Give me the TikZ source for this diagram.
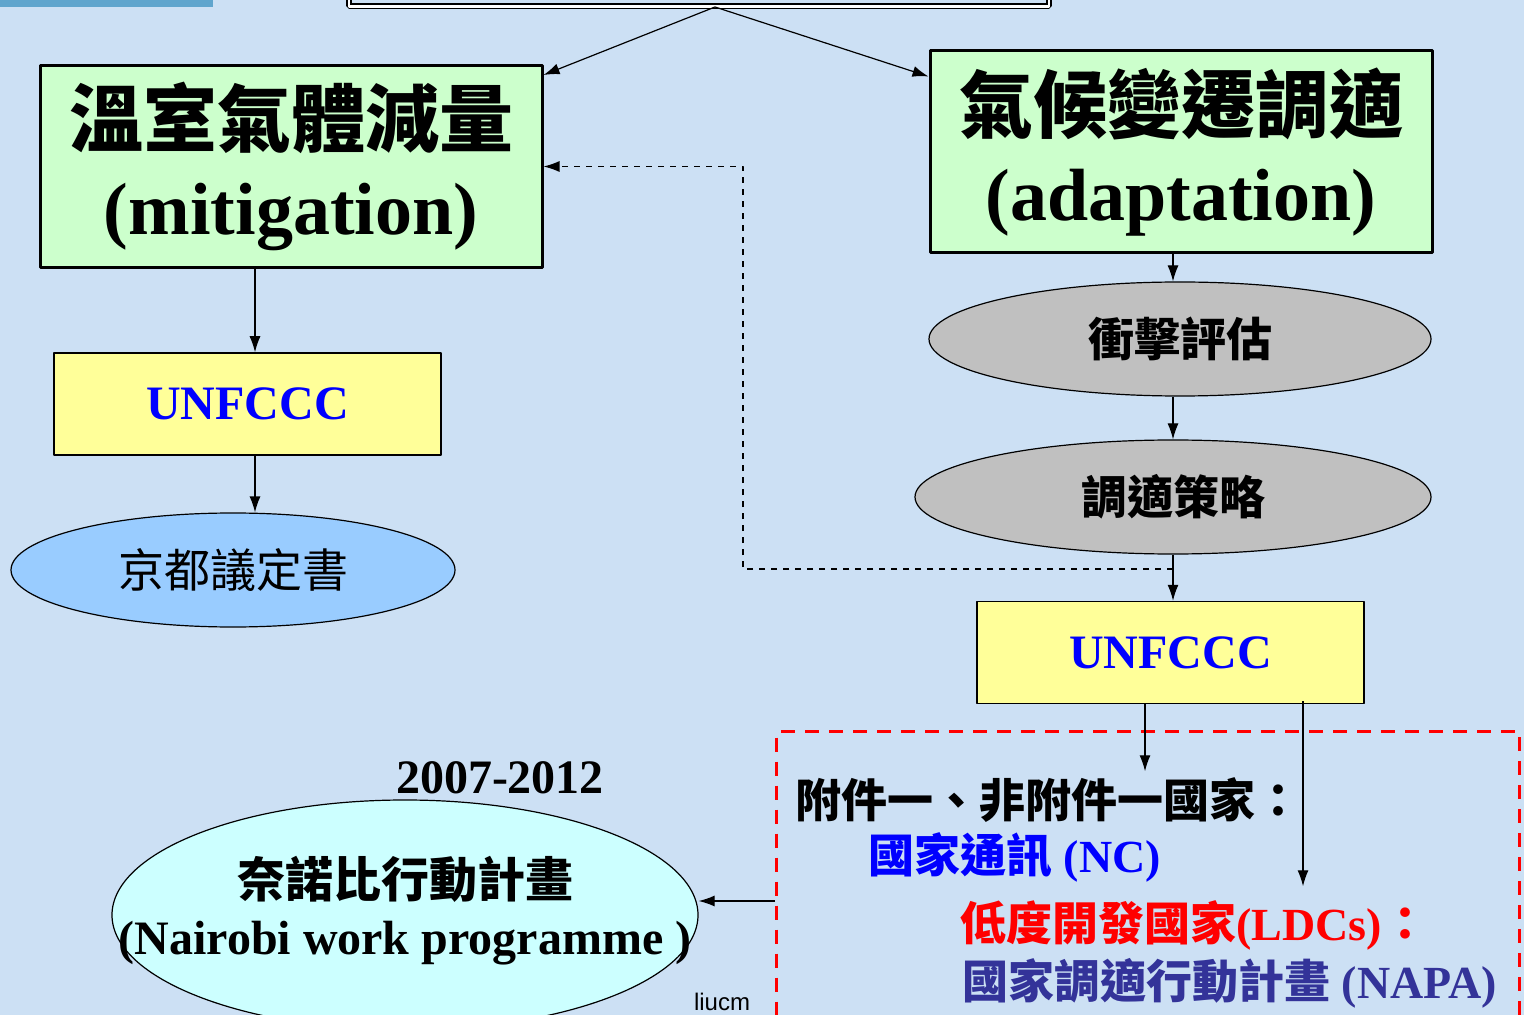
\documentclass[tikz,border=0pt]{standalone}
\usepackage{fontspec}
\setmainfont{Liberation Serif}
\setsansfont{Liberation Sans}
\newfontfamily\cjk{Noto Sans CJK TC}
\newcommand{\zh}[1]{{\cjk #1}}
\usetikzlibrary{shapes.geometric,arrows.meta}

\definecolor{bgcol}{RGB}{204,224,244}
\definecolor{barcol}{RGB}{95,165,205}
\definecolor{mitcol}{RGB}{204,255,204}
\definecolor{unfcol}{RGB}{255,255,153}
\definecolor{kyotocol}{RGB}{153,204,255}
\definecolor{stepcol}{RGB}{192,192,192}
\definecolor{nairobicol}{RGB}{204,255,255}
\definecolor{napacol}{RGB}{51,51,153}

\tikzset{
  flow/.style={->,line width=0.6pt},
  bigbox/.style={draw,line width=1.5pt,fill=mitcol,minimum width=251pt,minimum height=101pt,
    inner sep=0pt,align=center,font=\fontsize{37}{44}\selectfont\bfseries},
  unfbox/.style={draw,line width=0.75pt,fill=unfcol,minimum width=193.5pt,minimum height=51pt,
    inner sep=0pt,text=blue,font=\fontsize{24}{28}\selectfont\bfseries},
  oval/.style={ellipse,draw,line width=0.6pt,inner sep=0pt},
  ovaltext/.style={font=\fontsize{23}{28}\selectfont\bfseries\cjk}
}

\begin{document}
\begin{tikzpicture}[>={Latex[length=8pt,width=5.5pt]},line join=bevel,x=0.5pt,y=-0.5pt]
  \useasboundingbox (0,0) rectangle (1524,1015);
  \fill[bgcol] (0,0) rectangle (1524,1015);
  \fill[barcol] (0,0) rectangle (213,7);
%%
  % Node: root (title box, cut off)
  \node[draw,double,line width=0.7pt,double distance=1.4pt,minimum width=350pt,minimum height=30pt,
    anchor=south] (root) at (699,7) {};
  % Node: mitigation
  \node[bigbox] (mit) at (291,166.5) {\zh{溫室氣體減量}\\(mitigation)};
  % Node: adaptation
  \node[bigbox] (ada) at (1181,152) {\zh{氣候變遷調適}\\(adaptation)};
  % Node: UNFCCC (left)
  \node[unfbox] (unleft) at (247.5,404) {UNFCCC};
  % Node: Kyoto
  \node[oval,fill=kyotocol,minimum width=222pt,minimum height=57pt,
    font=\fontsize{23}{28}\selectfont\cjk] (kyoto) at (233,570) {京都議定書};
  % Node: impact
  \node[oval,fill=stepcol,minimum width=251pt,minimum height=57pt,ovaltext] (impact) at (1180,339) {衝擊評估};
  % Node: strategy
  \node[oval,fill=stepcol,minimum width=258pt,minimum height=57pt,ovaltext] (strategy) at (1173,497) {調適策略};
  % Node: UNFCCC (right)
  \node[unfbox] (unright) at (1170.5,652.5) {UNFCCC};
  % Node: LDC frame
  \node[draw=red,line width=1.5pt,dash pattern=on 7pt off 5pt,minimum width=371.5pt,minimum height=310pt,
    anchor=north west] (frame) at (775,730) {};
  % Node: Nairobi
  \node[oval,fill=nairobicol,minimum width=293pt,minimum height=115pt] (nairobi) at (405,915) {};
  \node[align=center,font=\fontsize{24}{28.5}\selectfont\bfseries] (nwp) at (405,911)
    {\zh{奈諾比行動計畫}\\(Nairobi work programme )};
  \node[font=\fontsize{24}{28}\selectfont\bfseries] (years) at (500,778) {2007-2012};
  % Node: texts in frame
  \node[anchor=west,inner sep=0pt,font=\fontsize{23}{28}\selectfont\bfseries] (annex) at (795,800)
    {\zh{附件一、非附件一國家：}};
  \node[anchor=west,inner sep=0pt,text=blue,font=\fontsize{23}{28}\selectfont\bfseries] (nc) at (868,857)
    {\zh{國家通訊} (NC)};
  \node[anchor=west,inner sep=0pt,text=red,font=\fontsize{23}{28}\selectfont\bfseries] (ldc) at (960,925)
    {\zh{低度開發國家}(LDCs)\zh{：}};
  \node[anchor=west,inner sep=0pt,text=napacol,font=\fontsize{23}{28}\selectfont\bfseries] (napa) at (962,983)
    {\zh{國家調適行動計畫} (NAPA)};
  \node[anchor=south,inner sep=1pt,font=\sffamily\fontsize{12}{14}\selectfont] (sign) at (722,1013) {liucm};
%%
  % Edge: root -> mitigation
  \draw[flow] ([xshift=8pt]root.south) -- ([yshift=-5.5pt]mit.north east);
  % Edge: root -> adaptation
  \draw[flow] ([xshift=8pt]root.south) -- ([yshift=-13.5pt]ada.north west);
  % Edge: mitigation -> UNFCCC
  \draw[flow] ([xshift=3.75pt]unleft.north |- mit.south) -- ([xshift=3.75pt]unleft.north);
  % Edge: UNFCCC -> Kyoto
  \draw[flow] ([xshift=3.75pt]unleft.south) -- ([xshift=3.75pt]unleft.south |- kyoto.north);
  % Edge: adaptation -> impact
  \draw[flow] (strategy.north |- ada.south) -- (strategy.north |- impact.north);
  % Edge: impact -> strategy
  \draw[flow] (strategy.north |- impact.south) -- (strategy.north);
  % Edge: strategy -> UNFCCC
  \draw[flow] (strategy.south) -- (strategy.south |- unright.north);
  % Edge: strategy -> mitigation (dashed)
  \coordinate (split) at (1173,569);
  \coordinate (turn) at (743,569);
  \draw[flow,dashed] (split) -- (turn) |- (mit.east);
  % Edge: UNFCCC -> annex text
  \draw[flow] ([xshift=-12.75pt]unright.south) -- ++(0,67);
  % Edge: UNFCCC -> LDC text
  \draw[flow] ([xshift=66.25pt,yshift=1.5pt]unright.south) -- ++(0,185);
  % Edge: frame -> Nairobi
  \draw[flow] (frame.west |- 0,901) -- (nairobi.east |- 0,901);
%
\end{tikzpicture}
\end{document}
